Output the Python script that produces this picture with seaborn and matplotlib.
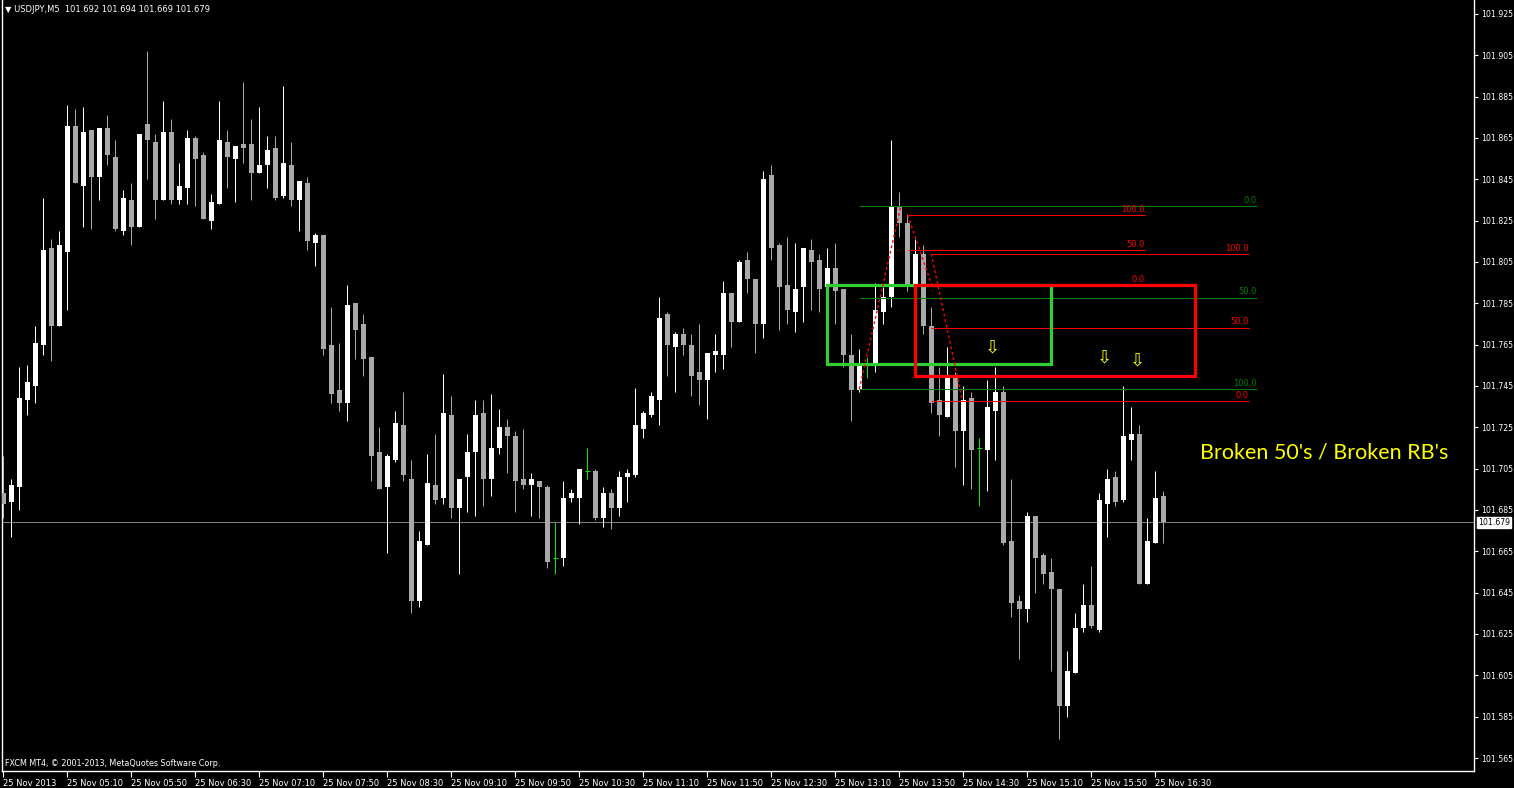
import numpy as np
import pandas as pd
import matplotlib
matplotlib.use("Agg")
import matplotlib.pyplot as plt
from matplotlib.patches import Rectangle
import seaborn as sns

# ---------------- data ----------------
symbol = "USDJPY,M5"
start_time = "2013-11-25 04:30"
header_ohlc = ["101.692", "101.694", "101.669", "101.679"]

open_ = [101.693, 101.689, 101.696, 101.738, 101.745, 101.765, 101.812, 101.774, 101.810, 101.871,
         101.842, 101.869, 101.846, 101.870, 101.856, 101.820, 101.835, 101.822, 101.872, 101.863,
         101.835, 101.868, 101.835, 101.841, 101.865, 101.857, 101.825, 101.833, 101.863, 101.855,
         101.862, 101.862, 101.848, 101.852, 101.860, 101.837, 101.852, 101.835, 101.843, 101.814,
         101.818, 101.765, 101.743, 101.737, 101.785, 101.775, 101.759, 101.713, 101.696, 101.709,
         101.726, 101.700, 101.641, 101.668, 101.697, 101.691, 101.731, 101.686, 101.701, 101.713,
         101.732, 101.700, 101.715, 101.725, 101.721, 101.700, 101.697, 101.699, 101.696, 101.662,
         101.662, 101.691, 101.691, 101.704, 101.704, 101.681, 101.693, 101.686, 101.701, 101.702,
         101.724, 101.731, 101.738, 101.780, 101.764, 101.770, 101.765, 101.752, 101.748, 101.760,
         101.760, 101.790, 101.776, 101.806, 101.797, 101.775, 101.847, 101.813, 101.794, 101.781,
         101.793, 101.811, 101.806, 101.793, 101.802, 101.792, 101.760, 101.743, 101.755, 101.755,
         101.781, 101.788, 101.832, 101.824, 101.793, 101.809, 101.774, 101.738, 101.730, 101.749,
         101.723, 101.739, 101.715, 101.714, 101.733, 101.742, 101.670, 101.641, 101.637, 101.682,
         101.663, 101.655, 101.647, 101.590, 101.606, 101.628, 101.639, 101.627, 101.688, 101.701,
         101.690, 101.719, 101.722, 101.649, 101.669, 101.692]

high = [101.711, 101.700, 101.754, 101.755, 101.774, 101.836, 101.816, 101.820, 101.881, 101.879,
        101.880, 101.869, 101.870, 101.876, 101.864, 101.840, 101.843, 101.867, 101.907, 101.867,
        101.883, 101.874, 101.853, 101.869, 101.866, 101.858, 101.838, 101.883, 101.869, 101.861,
        101.892, 101.874, 101.880, 101.866, 101.866, 101.890, 101.863, 101.844, 101.846, 101.819,
        101.818, 101.783, 101.766, 101.794, 101.785, 101.780, 101.759, 101.725, 101.712, 101.733,
        101.742, 101.709, 101.675, 101.712, 101.722, 101.751, 101.740, 101.700, 101.722, 101.738,
        101.738, 101.741, 101.734, 101.729, 101.723, 101.724, 101.703, 101.699, 101.697, 101.679,
        101.699, 101.695, 101.705, 101.715, 101.705, 101.696, 101.695, 101.704, 101.705, 101.744,
        101.733, 101.742, 101.788, 101.781, 101.771, 101.773, 101.770, 101.775, 101.761, 101.770,
        101.796, 101.790, 101.806, 101.810, 101.797, 101.849, 101.852, 101.814, 101.817, 101.814,
        101.812, 101.816, 101.809, 101.812, 101.814, 101.792, 101.770, 101.763, 101.759, 101.795,
        101.793, 101.864, 101.839, 101.828, 101.816, 101.813, 101.783, 101.754, 101.764, 101.752,
        101.745, 101.742, 101.720, 101.748, 101.754, 101.745, 101.700, 101.644, 101.684, 101.682,
        101.664, 101.662, 101.647, 101.617, 101.635, 101.649, 101.658, 101.693, 101.705, 101.704,
        101.745, 101.735, 101.726, 101.681, 101.704, 101.694]

low = [101.681, 101.672, 101.685, 101.731, 101.737, 101.760, 101.757, 101.774, 101.782, 101.843,
       101.822, 101.821, 101.835, 101.852, 101.820, 101.818, 101.813, 101.822, 101.845, 101.826,
       101.835, 101.833, 101.833, 101.833, 101.832, 101.826, 101.821, 101.833, 101.841, 101.834,
       101.853, 101.835, 101.848, 101.841, 101.835, 101.836, 101.832, 101.820, 101.811, 101.803,
       101.760, 101.737, 101.733, 101.728, 101.758, 101.750, 101.699, 101.695, 101.664, 101.708,
       101.699, 101.635, 101.638, 101.668, 101.688, 101.688, 101.681, 101.654, 101.684, 101.682,
       101.687, 101.692, 101.712, 101.703, 101.684, 101.695, 101.682, 101.681, 101.657, 101.654,
       101.658, 101.689, 101.678, 101.700, 101.680, 101.677, 101.676, 101.682, 101.689, 101.701,
       101.720, 101.730, 101.726, 101.750, 101.742, 101.760, 101.740, 101.736, 101.729, 101.752,
       101.753, 101.764, 101.776, 101.790, 101.761, 101.768, 101.806, 101.772, 101.775, 101.771,
       101.776, 101.782, 101.781, 101.778, 101.775, 101.754, 101.728, 101.742, 101.749, 101.752,
       101.775, 101.783, 101.817, 101.791, 101.793, 101.770, 101.732, 101.721, 101.730, 101.706,
       101.697, 101.695, 101.687, 101.694, 101.709, 101.668, 101.633, 101.613, 101.631, 101.645,
       101.649, 101.607, 101.574, 101.585, 101.606, 101.626, 101.628, 101.626, 101.672, 101.687,
       101.689, 101.709, 101.649, 101.649, 101.669, 101.669]

close = [101.688, 101.697, 101.739, 101.747, 101.766, 101.811, 101.774, 101.813, 101.871, 101.843,
         101.868, 101.846, 101.870, 101.857, 101.821, 101.836, 101.822, 101.867, 101.864, 101.835,
         101.868, 101.835, 101.842, 101.865, 101.855, 101.826, 101.834, 101.864, 101.856, 101.861,
         101.860, 101.848, 101.852, 101.859, 101.836, 101.853, 101.835, 101.844, 101.815, 101.818,
         101.763, 101.741, 101.737, 101.784, 101.772, 101.758, 101.711, 101.695, 101.711, 101.727,
         101.702, 101.641, 101.670, 101.698, 101.690, 101.732, 101.686, 101.700, 101.713, 101.731,
         101.700, 101.715, 101.725, 101.721, 101.699, 101.697, 101.700, 101.696, 101.660, 101.662,
         101.691, 101.693, 101.705, 101.704, 101.681, 101.693, 101.686, 101.701, 101.703, 101.726,
         101.732, 101.740, 101.778, 101.765, 101.770, 101.765, 101.750, 101.748, 101.761, 101.762,
         101.790, 101.776, 101.805, 101.797, 101.775, 101.845, 101.812, 101.793, 101.782, 101.792,
         101.812, 101.805, 101.792, 101.802, 101.791, 101.760, 101.743, 101.755, 101.755, 101.782,
         101.788, 101.832, 101.824, 101.794, 101.809, 101.774, 101.737, 101.731, 101.749, 101.723,
         101.738, 101.714, 101.715, 101.735, 101.742, 101.669, 101.640, 101.637, 101.682, 101.662,
         101.654, 101.647, 101.590, 101.607, 101.628, 101.639, 101.629, 101.690, 101.700, 101.689,
         101.721, 101.722, 101.649, 101.670, 101.691, 101.679]

bid = 101.679
price_ticks = [round(101.565 + 0.020 * i, 3) for i in range(19)]

# fibonacci objects: (bar, price) of point 1 (level 100) and point 2 (level 0), and right end bar
fib_levels = [0.0, 50.0, 100.0]
green_fib_bars = [107.0, 112.2]
green_fib_prices = [101.7435, 101.8321]
green_fib_end = 156.7
red_fib1_bars = [113.05, 116.05]
red_fib1_prices = [101.8277, 101.7939]
red_fib1_end = 142.7
red_fib2_bars = [116.0, 119.9]
red_fib2_prices = [101.8089, 101.7377]
red_fib2_end = 155.7

# rectangles: bar0, bar1, price_low, price_high
green_rect = [103.0, 131.0, 101.7555, 101.7937]
red_rect = [114.0, 149.0, 101.7498, 101.7937]

arrow_bars = [123.7, 137.7, 141.75]
arrow_prices = [101.7634, 101.7587, 101.7573]

note_text = "Broken 50's / Broken RB's"
note_bar = 149.6
note_price = 101.7100

copyright_text = "FXCM MT4, \u00a9 2001-2013, MetaQuotes Software Corp."

# ---------------- styling ----------------
sns.set_theme(style="dark")
plt.rcParams["font.family"] = ["DejaVu Sans"]

W, H = 1514, 788
fig = plt.figure(figsize=(W / 100, H / 100), dpi=100, facecolor="black")
ax = fig.add_axes([2 / W, 17 / H, 1472 / W, 771 / H])
ax.set_facecolor("black")

df = pd.DataFrame({"open": open_, "high": high, "low": low, "close": close})
df["bar"] = np.arange(len(df))
df["time"] = pd.date_range(start_time, periods=len(df), freq="5min")

BULL = "#ffffff"
BEAR = "#a9a9a9"
DOJI = "#00e600"
px = 0.72
bw = 0.62

x = df["bar"].to_numpy()
o = df["open"].to_numpy(); h = df["high"].to_numpy()
l = df["low"].to_numpy(); c = df["close"].to_numpy()
up = c > o
dn = c < o
dj = c == o

ax.axhline(bid, color="#808080", lw=px, zorder=1)

for mask, col in [(up, BULL), (dn, BEAR)]:
    ax.vlines(x[mask], l[mask], h[mask], color=col, lw=px, zorder=2)
    ax.bar(x[mask], np.abs(c - o)[mask], bottom=np.minimum(o, c)[mask], width=bw,
           color=col, linewidth=0, zorder=3)
ax.vlines(x[dj], l[dj], h[dj], color=DOJI, lw=px, zorder=2)
ax.hlines(o[dj], x[dj] - bw / 2, x[dj] + bw / 2, color=DOJI, lw=px, zorder=3)

# rectangles
for rect, col in [(green_rect, "#32cd32"), (red_rect, "#ff0000")]:
    ax.add_patch(Rectangle((rect[0], rect[2]), rect[1] - rect[0], rect[3] - rect[2],
                           fill=False, edgecolor=col, lw=2.3, zorder=5))

# fibonacci retracements
def draw_fib(bars, prices, end, col):
    p100, p0 = prices[0], prices[1]
    start = min(bars)
    for lev in fib_levels:
        p = p0 + (p100 - p0) * lev / 100.0
        ax.hlines(p, start, end, color=col, lw=px, zorder=4)
        ax.text(end, p + 0.0006, f"{lev:.1f}", color=col, fontsize=6,
                ha="right", va="bottom", zorder=6)
    sns.lineplot(x=bars, y=prices, ax=ax, color="#ff0000", lw=1.0,
                 linestyle=(0, (2, 2)), sort=False, zorder=6)

draw_fib(green_fib_bars, green_fib_prices, green_fib_end, "#008000")
draw_fib(red_fib1_bars, red_fib1_prices, red_fib1_end, "#ff0000")
draw_fib(red_fib2_bars, red_fib2_prices, red_fib2_end, "#ff0000")

for bx, by in zip(arrow_bars, arrow_prices):
    ax.text(bx, by, "\u21e9", color="#ffff00", fontsize=13, ha="center", va="center", zorder=7)

ax.text(note_bar, note_price, note_text, color="#ffff00", fontsize=15.5,
        family=["Lato", "DejaVu Sans"], ha="left", va="baseline", zorder=7)

# axes limits
ax.set_xlim(-0.1625, 183.84)
ax.set_ylim(101.55871, 101.93177)
ax.set_xlabel("")
ax.set_ylabel("")
ax.grid(False)
if ax.get_legend() is not None:
    ax.get_legend().remove()

# x ticks
tick_bars = list(range(0, len(df), 8))
tick_labels = []
for b in tick_bars:
    t = df["time"].iloc[b]
    tick_labels.append("25 Nov 2013" if b == 0 else t.strftime("%d %b %H:%M"))
ax.set_xticks(tick_bars)
ax.set_xticklabels(tick_labels, ha="left", fontsize=6, color="white")
ax.tick_params(axis="x", direction="out", length=4, width=0.8, color="white", pad=1.5,
               bottom=True)

# y ticks on right
ax.yaxis.tick_right()
ax.set_yticks(price_ticks)
ax.set_yticklabels([f"{v:.3f}" for v in price_ticks], fontsize=5.6, color="white")
ax.tick_params(axis="y", direction="out", length=3, width=0.8, color="white", pad=2,
               right=True, left=False)

for side in ["left", "bottom", "right"]:
    ax.spines[side].set_visible(True)
    ax.spines[side].set_color("white")
    ax.spines[side].set_linewidth(1.0)
ax.spines["top"].set_visible(False)

# bid label box
ax.annotate(f"{bid:.3f}", xy=(1.0, bid), xycoords=("axes fraction", "data"),
            xytext=(3, 0), textcoords="offset points", fontsize=5.6, color="black",
            ha="left", va="center",
            bbox=dict(boxstyle="square,pad=0.15", fc="white", ec="white"), zorder=8,
            annotation_clip=False)

# header and copyright
fig.text(5 / W, 1 - 10 / H, "\u25bc " + symbol + "  " + " ".join(header_ohlc),
         color="white", fontsize=6, ha="left", va="center")
fig.text(5 / W, 1 - 763 / H, copyright_text, color="white", fontsize=5.8,
         ha="left", va="center")

fig.savefig("out.png", dpi=100, facecolor="black")
